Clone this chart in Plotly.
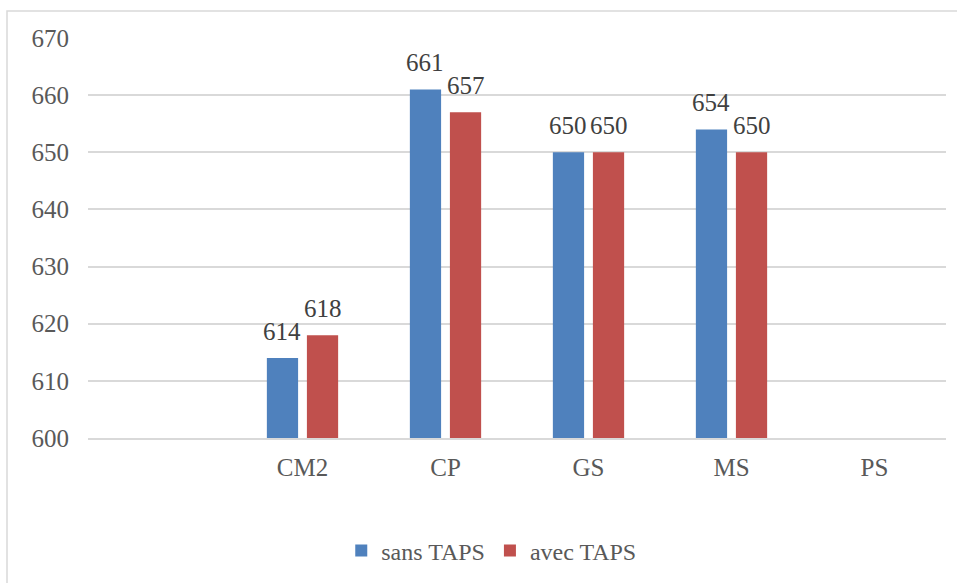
import plotly.graph_objects as go

categories = ["", "CM2", "CP", "GS", "MS", "PS"]
sans_taps = [None, 614, 661, 650, 654, None]
avec_taps = [None, 618, 657, 650, 650, None]
series_names = ["sans TAPS", "avec TAPS"]
y_ticks = [600, 610, 620, 630, 640, 650, 660, 670]

FONT = "Liberation Serif"
GRID = "#d9d9d9"
colors = ["#4f81bd", "#c0504d"]
bargap = 0.44
bargroupgap = 0.22

x_idx = list(range(len(categories)))

fig = go.Figure()
for name, vals, col in zip(series_names, [sans_taps, avec_taps], colors):
    fig.add_trace(go.Bar(x=x_idx, y=vals, name=name, marker=dict(color=col, line=dict(width=0))))

# value labels above each bar
slot = (1 - bargap) / 2
for k, vals in enumerate([sans_taps, avec_taps]):
    off = (k - 0.5) * slot
    for i, v in enumerate(vals):
        if v is None:
            continue
        fig.add_annotation(x=i + off, y=v, text=str(v), showarrow=False,
                           xref="x", yref="y", yanchor="bottom", yshift=11,
                           font=dict(family=FONT, size=25, color="#404040"))

fig.update_layout(
    width=957, height=583,
    margin=dict(l=88, r=11, t=38, b=144),
    paper_bgcolor="white", plot_bgcolor="white",
    barmode="group", bargap=bargap, bargroupgap=bargroupgap,
    font=dict(family=FONT, size=25, color="#595959"),
    showlegend=True,
    legend=dict(orientation="h", x=0.47, xanchor="center", y=-0.279, yanchor="middle",
                font=dict(family=FONT, size=24, color="#595959"), traceorder="normal"),
    xaxis=dict(range=[-0.5, 5.5], tickmode="array", tickvals=x_idx, ticktext=categories,
               showgrid=False, showline=True, linecolor=GRID, linewidth=1.5,
               ticks="", ticklabelstandoff=6, zeroline=False),
    yaxis=dict(range=[600, 670], tickmode="array", tickvals=y_ticks,
               showgrid=True, gridcolor=GRID, gridwidth=1.5, zeroline=False,
               showline=False, ticks="", ticklabelstandoff=18),
    shapes=[dict(type="rect", xref="paper", yref="paper",
                 x0=(7 - 88) / 858, x1=(970 - 88) / 858,
                 y0=(439 - 600) / 401, y1=1 + (38 - 11) / 401,
                 line=dict(color=GRID, width=1.5), layer="below")],
)

fig.write_html("out.html", config={"displayModeBar": False},
               post_script="document.body.style.margin='0';document.body.style.overflow='hidden';")
